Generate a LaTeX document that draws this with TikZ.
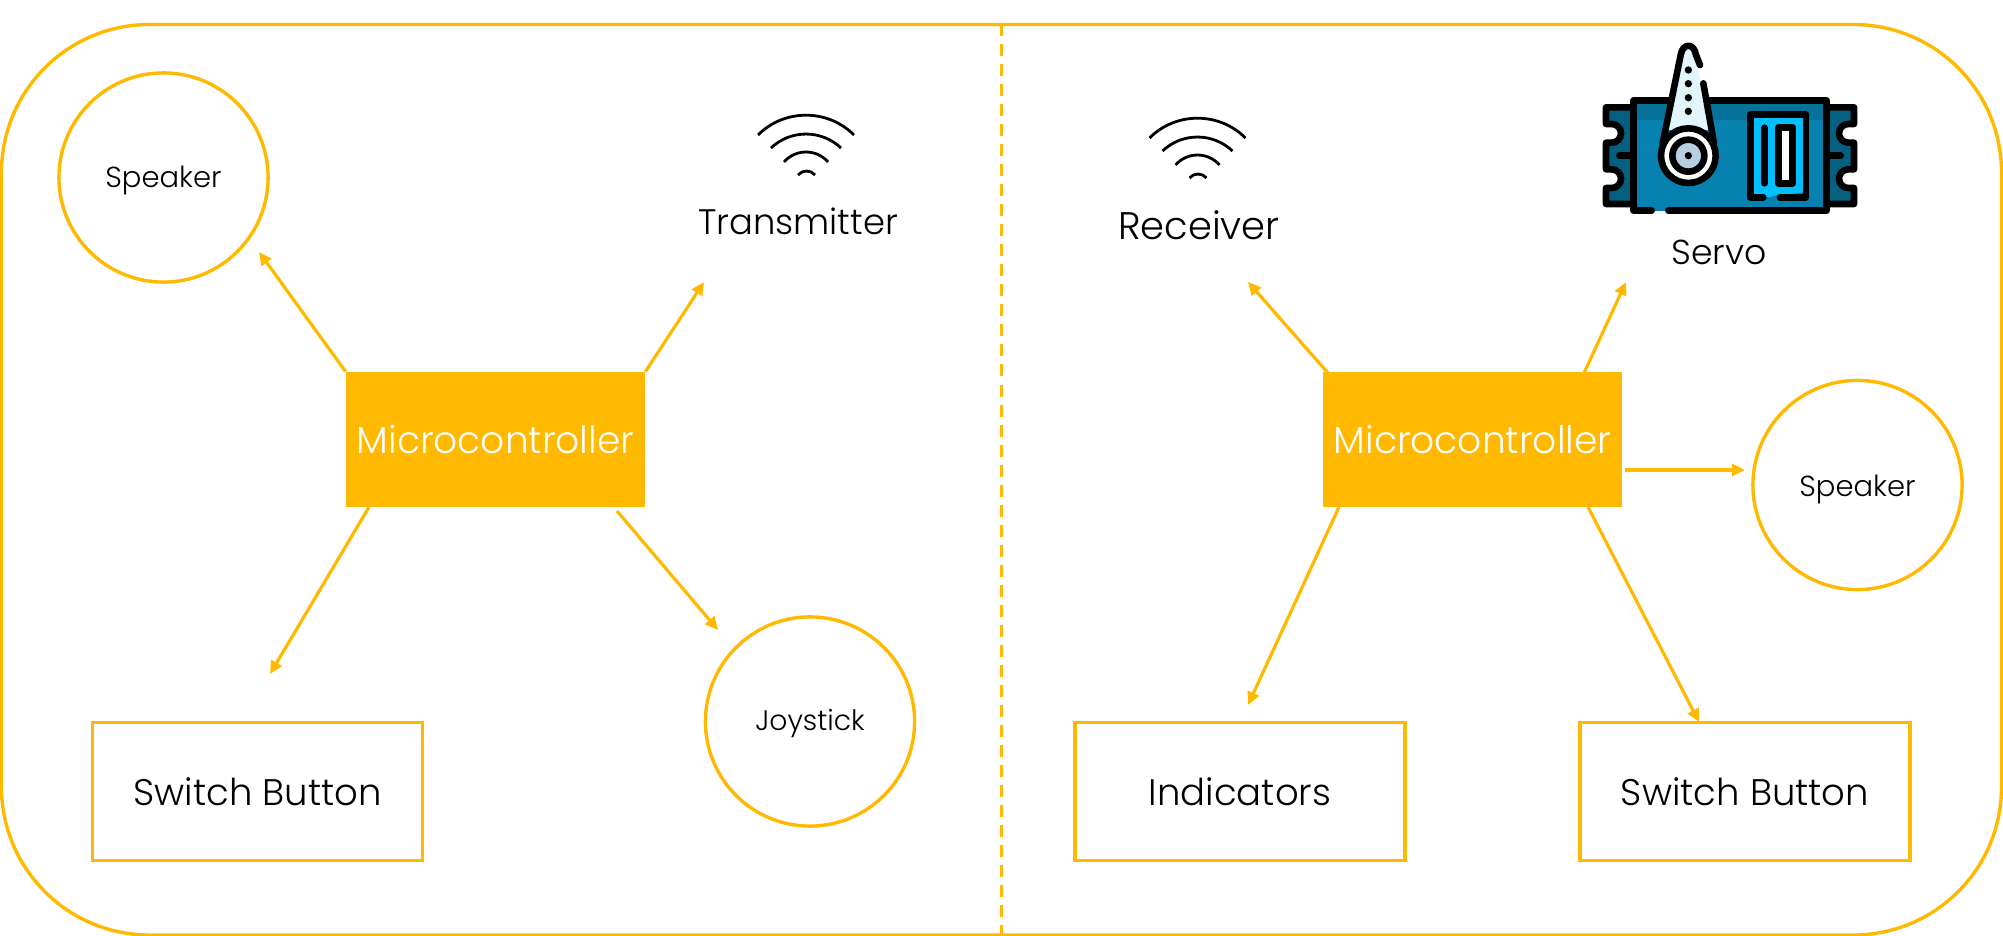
\documentclass[tikz,border=0pt]{standalone}
\usepackage{fontspec}
\setmainfont{Poppins Light}
\usetikzlibrary{arrows.meta}
\definecolor{amber}{HTML}{FFB900}
\definecolor{earblue}{HTML}{05607F}
\definecolor{bodyblue}{HTML}{0681B0}
\definecolor{bandblue}{HTML}{06729A}
\definecolor{winblue}{HTML}{00BFFF}
\definecolor{hornblue}{HTML}{E0F5FC}
\definecolor{hubblue}{HTML}{B8D0E0}
\tikzset{
  amberline/.style={draw=amber,line width=1.7pt},
  link/.style={amber,line width=1.6pt,-{Triangle[length=6.5pt,width=6pt]}},
  micro/.style={fill=amber,inner sep=0pt,minimum width=149.5pt,minimum height=67.5pt,text=white,font=\fontsize{18.8}{22}\selectfont},
  boxnode/.style={amberline,fill=white,inner sep=0pt,minimum width=165pt,minimum height=69pt,font=\fontsize{18.5}{22}\selectfont},
  roundnode/.style={amberline,circle,fill=white,inner sep=0pt,minimum size=104.6pt},
  plainlabel/.style={inner sep=0pt},
  wave/.style={black,line width=1.4pt},
  ink/.style={black,line width=3.3pt,line cap=round,line join=round},
}
\begin{document}
\begin{tikzpicture}[x=0.5pt,y=-0.5pt]
\useasboundingbox (0,0) rectangle (2003,936);
% frame and divider
\draw[amberline,rounded corners=74pt] (1.5,24.5) rectangle (2001.5,935);
\coordinate (divtop) at (1001.5,24.5);
\coordinate (divbot) at (1001.5,935);
\draw[amberline,dash pattern=on 6pt off 4pt] (divtop) -- (divbot);
% nodes
\node[micro] (mcl) at (495.5,439.5) {Microcontroller};
\node[micro] (mcr) at (1472.5,439.5) {Microcontroller};
\node[roundnode,font=\fontsize{14.5}{17}\selectfont] (spkl) at (163.5,177.5) {\raisebox{-5.2pt}[0pt][0pt]{Speaker}};
\node[roundnode,font=\fontsize{14.1}{17}\selectfont] (joy) at (810,721.5) {\raisebox{-4.6pt}[0pt][0pt]{Joystick}};
\node[roundnode,font=\fontsize{14.5}{17}\selectfont] (spkr) at (1857.5,485) {\raisebox{-5.7pt}[0pt][0pt]{Speaker}};
\node[boxnode] (swl) at (257.5,791.5) {Switch Button};
\node[boxnode] (ind) at (1240,791.5) {Indicators};
\node[boxnode] (swr) at (1745,791.5) {Switch Button};
\node[plainlabel,font=\fontsize{17.7}{21}\selectfont] (tx) at (798,221) {Transmitter};
\node[plainlabel,font=\fontsize{19.2}{23}\selectfont] (rx) at (1199,225) {Receiver};
\node[plainlabel,font=\fontsize{17.3}{21}\selectfont] (srv) at (1719,252) {Servo};
% free ends
\coordinate (a1) at (259,252);
\coordinate (a2) at (704,282);
\coordinate (a3s) at (369,507);
\coordinate (a3) at (270,674);
\coordinate (a4s) at (617,511);
\coordinate (a4) at (718,630);
\coordinate (b1s) at (1328,373);
\coordinate (b1) at (1248,282);
\coordinate (b2s) at (1584,373);
\coordinate (b2) at (1626,282);
\coordinate (b3s) at (1625,470);
\coordinate (b3) at (1745,470);
\coordinate (b4s) at (1339,507);
\coordinate (b4) at (1248,705);
\coordinate (b5s) at (1588,507);
\coordinate (b5) at (1699,722);
% connectors
\draw[link] (mcl.north west) -- (a1);
\draw[link] (mcl.north east) -- (a2);
\draw[link] (a3s) -- (a3);
\draw[link] (a4s) -- (a4);
\draw[link] (b1s) -- (b1);
\draw[link] (b2s) -- (b2);
\draw[link] (b3s) -- (b3);
\draw[link] (b4s) -- (b4);
\draw[link] (b5s) -- (b5);
% wifi icons
\foreach \dx/\dy in {0/0,391.5/3}{
 \begin{scope}[shift={(\dx,\dy)}]
  \draw[wave] (758,135) .. controls (784.4,108.6) and (827.6,108.6) .. (854,135);
  \draw[wave] (771,148) .. controls (790.6,129.4) and (821.4,129.4) .. (841,148);
  \draw[wave] (784,162) .. controls (795.6,148.7) and (816.4,148.7) .. (828,162);
  \draw[wave] (798,175) .. controls (802.4,169.7) and (810.6,169.7) .. (815,175);
 \end{scope}
}
% servo icon (drawn in the 3x crop's coordinates)
\begin{scope}[shift={(1560,20)},x=0.16667pt,y=-0.16667pt]
 % ears
 \foreach \mx/\off in {1/0,-1/1020}{
 \begin{scope}[shift={(\off,0)},xscale=\mx]
  \draw[ink,fill=earblue] (220,262) -- (138,262) -- (138,312) -- (155,312)
    arc[start angle=-90,end angle=90,radius=28] -- (138,368) -- (138,448) -- (155,448)
    arc[start angle=-90,end angle=90,radius=28] -- (138,504) -- (138,552) -- (220,552) -- cycle;
  \draw[ink] (178,407) -- (220,407);
 \end{scope}}
 % body
 \fill[bodyblue] (220,242) rectangle (800,572);
 \fill[bandblue] (220,252) rectangle (800,300);
 \draw[ink] (275,572) -- (220,572) -- (220,242) -- (800,242) -- (800,572) -- (325,572);
 % window
 \fill[winblue] (572,283) rectangle (738,532);
 \fill[bodyblue] (738,532) -- (630,532) .. controls (650,520) and (700,525) .. (738,515) -- cycle;
 \draw[ink] (610,532) -- (572,532) -- (572,283) -- (738,283) -- (738,532) -- (660,532);
 \draw[ink] (613,323) -- (613,490);
 \draw[ink,fill=white!92!hubblue] (655,323) rectangle (698,490);
 % horn
 \fill[hornblue] (320,330) -- (362,110) .. controls (368,70) and (402,70) .. (408,110) -- (450,330) -- cycle;
 \draw[ink] (420,135) -- (408,105) .. controls (402,68) and (368,68) .. (362,105) -- (308,370);
 \draw[ink] (430,190) -- (462,370);
 \draw[ink,fill=white!96!hornblue] (385,407) circle[radius=82];
 \draw[ink,fill=hubblue] (385,407) circle[radius=48];
 \fill[black] (385,407) circle[radius=11];
 \foreach \yy in {150,191,233,274} \fill[black] (385,\yy) circle[radius=11];
\end{scope}
\end{tikzpicture}
\end{document}
